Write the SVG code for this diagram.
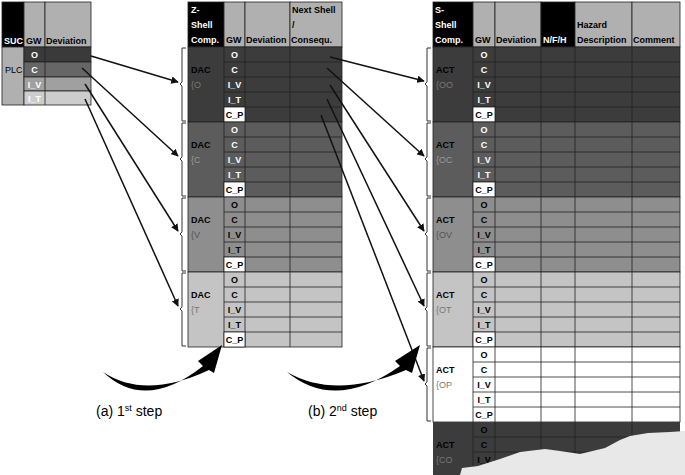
<svg xmlns="http://www.w3.org/2000/svg" width="685" height="475" viewBox="0 0 685 475">
<defs>
<style>
text{font-family:"Liberation Sans",Arial,sans-serif;font-size:9px;fill:#000}
.b{font-weight:bold}
.w{fill:#fff}
.g{fill:#777}
.c{stroke:#222;stroke-width:0.8}
.br{fill:none;stroke:#333;stroke-width:1}
.ar{stroke:#111;stroke-width:1.5;fill:none;marker-end:url(#ah)}
</style>
<marker id="ah" viewBox="0 0 10 10" refX="9" refY="5" markerWidth="5" markerHeight="5" orient="auto"><path d="M0,0L10,5L0,10z" fill="#111"/></marker>
</defs>
<rect width="685" height="475" fill="#fff"/>
<g id="suc-table">
<rect x="2" y="2" width="22" height="45" fill="#000" class="c"/>
<rect x="24" y="2" width="21" height="45" fill="#b0b0b0" class="c"/>
<rect x="45" y="2" width="46" height="45" fill="#b0b0b0" class="c"/>
<text x="4" y="44" class="b w">SUC</text><text x="26" y="44" class="b">GW</text><text x="46" y="44" class="b">Deviation</text>
<rect x="2" y="47" width="22" height="58" fill="#b0b0b0" class="c"/>
<text x="5" y="73">PLC</text>
<rect x="24" y="47" width="67" height="15" fill="#3a3a3a" class="c"/>
<rect x="24" y="62" width="67" height="15" fill="#666" class="c"/>
<rect x="24" y="77" width="67" height="14" fill="#a0a0a0" class="c"/>
<rect x="24" y="91" width="67" height="14" fill="#cdcdcd" class="c"/>
<line x1="45" y1="47" x2="45" y2="105" class="c"/>
<text x="34.5" y="58" text-anchor="middle" class="b w">O</text>
<text x="34.5" y="73" text-anchor="middle" class="b w">C</text>
<text x="34.5" y="88" text-anchor="middle" class="b w">I_V</text>
<text x="34.5" y="102" text-anchor="middle" class="b w">I_T</text>
</g>
<g id="z-table">
<rect x="188" y="2" width="36" height="45" fill="#000" class="c"/>
<rect x="224" y="2" width="21" height="45" fill="#b0b0b0" class="c"/>
<rect x="245" y="2" width="45" height="45" fill="#b0b0b0" class="c"/>
<rect x="290" y="2" width="52" height="45" fill="#b0b0b0" class="c"/>
<text x="191" y="13" class="b w">Z-</text><text x="191" y="28" class="b w">Shell</text><text x="191" y="43" class="b w">Comp.</text>
<text x="226" y="43" class="b">GW</text><text x="246" y="43" class="b">Deviation</text>
<text x="292" y="13" class="b">Next Shell</text><text x="292" y="28" class="b">/</text><text x="291" y="43" class="b">Consequ.</text>
</g>
<g id="z-dac-o">
<rect x="188" y="47" width="154" height="75" fill="#3c3c3c" class="c"/>
<path d="M224 62H342M224 77H342M224 92H342M224 107H342M224 47V122M245 47V122M290 47V122" class="c"/>
<rect x="224" y="107" width="21" height="15" fill="#fff" class="c"/>
<text x="191" y="73" class="b">DAC</text><text x="191" y="88" class="g">{O</text>
<text x="234.5" y="58" text-anchor="middle" class="b w">O</text><text x="234.5" y="73" text-anchor="middle" class="b w">C</text><text x="234.5" y="88" text-anchor="middle" class="b w">I_V</text><text x="234.5" y="103" text-anchor="middle" class="b w">I_T</text><text x="234.5" y="118" text-anchor="middle" class="b">C_P</text>
</g>
<g id="z-dac-c">
<rect x="188" y="122" width="154" height="75" fill="#5c5c5c" class="c"/>
<path d="M224 137H342M224 152H342M224 167H342M224 182H342M224 122V197M245 122V197M290 122V197" class="c"/>
<rect x="224" y="182" width="21" height="15" fill="#fff" class="c"/>
<text x="191" y="148" class="b">DAC</text><text x="191" y="163" style="fill:#999">{C</text>
<text x="234.5" y="133" text-anchor="middle" class="b w">O</text><text x="234.5" y="148" text-anchor="middle" class="b w">C</text><text x="234.5" y="163" text-anchor="middle" class="b w">I_V</text><text x="234.5" y="178" text-anchor="middle" class="b w">I_T</text><text x="234.5" y="193" text-anchor="middle" class="b">C_P</text>
</g>
<g id="z-dac-v">
<rect x="188" y="197" width="154" height="75" fill="#8e8e8e" class="c"/>
<path d="M224 212H342M224 227H342M224 242H342M224 257H342M224 197V272M245 197V272M290 197V272" class="c"/>
<rect x="224" y="257" width="21" height="15" fill="#fff" class="c"/>
<text x="191" y="223" class="b">DAC</text><text x="191" y="238" style="fill:#555">{V</text>
<text x="234.5" y="208" text-anchor="middle" class="b">O</text><text x="234.5" y="223" text-anchor="middle" class="b">C</text><text x="234.5" y="238" text-anchor="middle" class="b">I_V</text><text x="234.5" y="253" text-anchor="middle" class="b">I_T</text><text x="234.5" y="268" text-anchor="middle" class="b">C_P</text>
</g>
<g id="z-dac-t">
<rect x="188" y="272" width="154" height="75" fill="#c4c4c4" class="c"/>
<path d="M224 287H342M224 302H342M224 317H342M224 332H342M224 272V347M245 272V347M290 272V347" class="c"/>
<rect x="224" y="332" width="21" height="15" fill="#fff" class="c"/>
<text x="191" y="298" class="b">DAC</text><text x="191" y="313" class="g">{T</text>
<text x="234.5" y="283" text-anchor="middle" class="b">O</text><text x="234.5" y="298" text-anchor="middle" class="b">C</text><text x="234.5" y="313" text-anchor="middle" class="b">I_V</text><text x="234.5" y="328" text-anchor="middle" class="b">I_T</text><text x="234.5" y="343" text-anchor="middle" class="b">C_P</text>
</g>
<g id="s-table">
<rect x="433" y="2" width="40" height="45" fill="#000" class="c"/>
<rect x="473" y="2" width="22" height="45" fill="#b0b0b0" class="c"/>
<rect x="495" y="2" width="46" height="45" fill="#b0b0b0" class="c"/>
<rect x="541" y="2" width="34" height="45" fill="#000" class="c"/>
<rect x="575" y="2" width="57" height="45" fill="#b0b0b0" class="c"/>
<rect x="632" y="2" width="48" height="45" fill="#b0b0b0" class="c"/>
<text x="435" y="13" class="b w">S-</text><text x="435" y="28" class="b w">Shell</text><text x="435" y="43" class="b w">Comp.</text>
<text x="475" y="43" class="b">GW</text><text x="496" y="43" class="b">Deviation</text><text x="543" y="43" class="b w">N/F/H</text>
<text x="577" y="28" class="b">Hazard</text><text x="577" y="43" class="b">Description</text><text x="633" y="43" class="b">Comment</text>
</g>
<g id="s-act-oo">
<rect x="433" y="47" width="247" height="75" fill="#3c3c3c" class="c"/>
<path d="M473 62H680M473 77H680M473 92H680M473 107H680M473 47V122M495 47V122M541 47V122M575 47V122M632 47V122" class="c"/>
<rect x="473" y="107" width="22" height="15" fill="#fff" class="c"/>
<text x="436" y="73" class="b">ACT</text><text x="436" y="88" class="g">{OO</text>
<text x="484" y="58" text-anchor="middle" class="b w">O</text><text x="484" y="73" text-anchor="middle" class="b w">C</text><text x="484" y="88" text-anchor="middle" class="b w">I_V</text><text x="484" y="103" text-anchor="middle" class="b w">I_T</text><text x="484" y="118" text-anchor="middle" class="b">C_P</text>
</g>
<g id="s-act-oc">
<rect x="433" y="122" width="247" height="75" fill="#5c5c5c" class="c"/>
<path d="M473 137H680M473 152H680M473 167H680M473 182H680M473 122V197M495 122V197M541 122V197M575 122V197M632 122V197" class="c"/>
<rect x="473" y="182" width="22" height="15" fill="#fff" class="c"/>
<text x="436" y="148" class="b">ACT</text><text x="436" y="163" style="fill:#999">{OC</text>
<text x="484" y="133" text-anchor="middle" class="b w">O</text><text x="484" y="148" text-anchor="middle" class="b w">C</text><text x="484" y="163" text-anchor="middle" class="b w">I_V</text><text x="484" y="178" text-anchor="middle" class="b w">I_T</text><text x="484" y="193" text-anchor="middle" class="b">C_P</text>
</g>
<g id="s-act-ov">
<rect x="433" y="197" width="247" height="75" fill="#8e8e8e" class="c"/>
<path d="M473 212H680M473 227H680M473 242H680M473 257H680M473 197V272M495 197V272M541 197V272M575 197V272M632 197V272" class="c"/>
<rect x="473" y="257" width="22" height="15" fill="#fff" class="c"/>
<text x="436" y="223" class="b">ACT</text><text x="436" y="238" style="fill:#555">{OV</text>
<text x="484" y="208" text-anchor="middle" class="b">O</text><text x="484" y="223" text-anchor="middle" class="b">C</text><text x="484" y="238" text-anchor="middle" class="b">I_V</text><text x="484" y="253" text-anchor="middle" class="b">I_T</text><text x="484" y="268" text-anchor="middle" class="b">C_P</text>
</g>
<g id="s-act-ot">
<rect x="433" y="272" width="247" height="75" fill="#c4c4c4" class="c"/>
<path d="M473 287H680M473 302H680M473 317H680M473 332H680M473 272V347M495 272V347M541 272V347M575 272V347M632 272V347" class="c"/>
<rect x="473" y="332" width="22" height="15" fill="#fff" class="c"/>
<text x="436" y="298" class="b">ACT</text><text x="436" y="313" class="g">{OT</text>
<text x="484" y="283" text-anchor="middle" class="b">O</text><text x="484" y="298" text-anchor="middle" class="b">C</text><text x="484" y="313" text-anchor="middle" class="b">I_V</text><text x="484" y="328" text-anchor="middle" class="b">I_T</text><text x="484" y="343" text-anchor="middle" class="b">C_P</text>
</g>
<g id="s-act-op">
<rect x="433" y="347" width="247" height="75" fill="#fff" class="c"/>
<path d="M473 362H680M473 377H680M473 392H680M473 407H680M473 347V422M495 347V422M541 347V422M575 347V422M632 347V422" class="c"/>
<text x="436" y="373" class="b">ACT</text><text x="436" y="388" class="g">{OP</text>
<text x="484" y="358" text-anchor="middle" class="b">O</text><text x="484" y="373" text-anchor="middle" class="b">C</text><text x="484" y="388" text-anchor="middle" class="b">I_V</text><text x="484" y="403" text-anchor="middle" class="b">I_T</text><text x="484" y="418" text-anchor="middle" class="b">C_P</text>
</g>
<g id="s-act-co">
<rect x="433" y="422" width="247" height="53" fill="#3c3c3c"/>
<path d="M473 437H680M473 452H680M473 467H680M473 422V475M495 422V475M541 422V475M575 422V475M632 422V475" class="c"/>
<text x="436" y="448" class="b">ACT</text><text x="436" y="463" class="g">{CO</text>
<text x="484" y="433" text-anchor="middle" class="b">O</text><text x="484" y="448" text-anchor="middle" class="b">C</text><text x="484" y="463" text-anchor="middle" class="b">I_V</text>
<path d="M460 475L462 468L478 466L500 459L520 452L545 449L560 451L580 454L605 448L620 440L630 436L648 433L670 432L685 431V475Z" fill="#e8e8e8"/>
</g>
<g id="connectors">
<path class="br" d="M186 48h-4v34l-2 2 2 2v35h4M186 123h-4v34l-2 2 2 2v35h4M186 198h-4v34l-2 2 2 2v35h4M186 273h-4v34l-2 2 2 2v35h4"/>
<path class="br" d="M431 48h-4v34l-2 2 2 2v35h4M431 123h-4v34l-2 2 2 2v35h4M431 198h-4v34l-2 2 2 2v35h4M431 273h-4v34l-2 2 2 2v35h4M431 348h-4v34l-2 2 2 2v35h4"/>
<line class="ar" x1="91" y1="56" x2="178" y2="82"/>
<line class="ar" x1="82" y1="68" x2="178" y2="156"/>
<line class="ar" x1="85" y1="84" x2="178" y2="231"/>
<line class="ar" x1="85" y1="99" x2="178" y2="306"/>
<line class="ar" x1="330" y1="57" x2="424" y2="81"/>
<line class="ar" x1="327" y1="68" x2="424" y2="156"/>
<line class="ar" x1="330" y1="85" x2="424" y2="231"/>
<line class="ar" x1="327" y1="99" x2="424" y2="306"/>
<line class="ar" x1="321" y1="115" x2="424" y2="381"/>
<path d="M103 372Q145 412 203 366L198 361L222 345L214 373L209 370Q145 400 103 372Z" fill="#000"/>
<path d="M287 372Q335 412 400 366L395 361L420 345L412 373L406 370Q335 400 287 372Z" fill="#000"/>
</g>
<g id="labels">
<text x="96" y="416" style="font-size:14px">(a) 1<tspan style="font-size:9px" dy="-5">st</tspan><tspan dy="5"> step</tspan></text>
<text x="308" y="416" style="font-size:14px">(b) 2<tspan style="font-size:9px" dy="-5">nd</tspan><tspan dy="5"> step</tspan></text>
</g>
</svg>
